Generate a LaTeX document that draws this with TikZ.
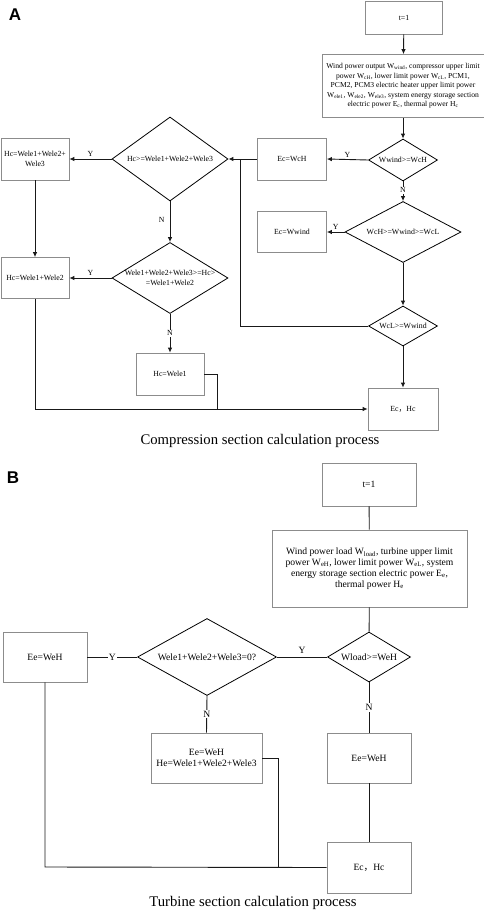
\documentclass[tikz,border=0pt]{standalone}
\usepackage{fontspec}
\setmainfont{Liberation Serif}
\newfontfamily\hel{Liberation Sans}
\newfontfamily\cjk{Noto Sans CJK SC}
\usetikzlibrary{shapes.geometric,arrows.meta}
\tikzset{
  fa/.style={font=\fontsize{7.8}{9.6}\selectfont},
  fb/.style={font=\fontsize{9.6}{10.8}\selectfont},
  bx/.style={draw=black!45, line width=0.7pt, rectangle, inner sep=0pt, align=center, fa},
  bxb/.style={bx, fb},
  dia/.style={draw=black, line width=0.8pt, diamond, inner sep=0pt},
  dlab/.style={fa, align=center, inner sep=0pt},
  dlabb/.style={fb, align=center, inner sep=0pt},
  cn/.style={line width=0.9pt, draw=black!90},
  ar/.style={cn, -{Latex[length=5pt,width=4.5pt]}},
  lab/.style={fa, inner sep=1pt},
  labb/.style={fb, inner sep=1pt},
  onl/.style={lab, fill=white},
  onlb/.style={labb, fill=white},
  captxt/.style={font=\fontsize{14.7}{17}\selectfont},
  panel/.style={font=\hel\bfseries\fontsize{17}{20}\selectfont}
}
\begin{document}
\begin{tikzpicture}[x=1pt,y=-1pt]
\useasboundingbox (0,0) rectangle (484,912);
% ---------- Panel A ----------
\node[panel] (lA) at (15,15) {A};
\node[bx, minimum width=77, minimum height=33] (t1A) at (404,17.5) {t=1};
\node[bx, minimum width=162, minimum height=63, font=\fontsize{7.6}{9.5}\selectfont] (infoA) at (403,86) {Wind power output W\textsubscript{wind}, compressor upper limit\\power W\textsubscript{cH}, lower limit power W\textsubscript{cL}, PCM1,\\PCM2, PCM3 electric heater upper limit power\\W\textsubscript{ele1}, W\textsubscript{ele2}, W\textsubscript{ele3}, system energy storage section\\electric power E\textsubscript{c}, thermal power H\textsubscript{c}};
\node[dia, minimum width=69, minimum height=42, label={[dlab]center:Wwind>=WcH}] (d1A) at (403,160) {};
\node[bx, minimum width=69, minimum height=42] (ecwch) at (292,159) {Ec=WcH};
\node[dia, minimum width=116, minimum height=61, label={[dlab]center:WcH>=Wwind>=WcL}] (d2A) at (403,232) {};
\node[bx, minimum width=69, minimum height=41] (ecwwind) at (292,232) {Ec=Wwind};
\node[dia, minimum width=69, minimum height=40, label={[dlab]center:WcL>=Wwind}] (d3A) at (403,326) {};
\node[bx, minimum width=70, minimum height=42] (echcA) at (403,409) {Ec{\cjk ，}Hc};
\node[dia, minimum width=116, minimum height=84, label={[dlab]center:Hc>=Wele1+Wele2+Wele3}] (hd1) at (170,159) {};
\node[bx, minimum width=68, minimum height=42] (hc1) at (35,159) {Hc=Wele1+Wele2+\\Wele3};
\node[dia, minimum width=116, minimum height=71, label={[dlab]center:Wele1+Wele2+Wele3>=Hc>\\=Wele1+Wele2}] (hd2) at (170,278) {};
\node[bx, minimum width=68, minimum height=41] (hc2) at (35,278) {Hc=Wele1+Wele2};
\node[bx, minimum width=68, minimum height=42] (hc3) at (170,374) {Hc=Wele1};
\coordinate (jA) at (240,159);
\coordinate (jA2) at (240,326);
\coordinate (kA) at (35,409);
\coordinate (mA) at (217,374);
\coordinate (mA2) at (217,409);

\draw[ar] (t1A) -- (infoA);
\draw[ar] (infoA) -- (d1A);
\draw[ar] (d1A.west) -- node[lab, above=1pt] (y1) {Y} (ecwch.east);
\draw[ar] (d1A.south) -- node[onl, pos=0.45] (n1) {N} (d2A.north);
\draw[ar] (d2A.west) -- node[lab, above=1pt] (y2) {Y} (ecwwind.east);
\draw[ar] (d2A.south) -- (d3A.north);
\draw[ar] (d3A.south) -- (echcA.north);
\draw[cn] (d3A.west) -- (jA2) -- (jA);
\draw[cn] (ecwch.west) -- (jA);
\draw[ar] (jA) -- (hd1.east);
\draw[ar] (hd1.west) -- node[lab, above=1pt] (y3) {Y} (hc1.east);
\draw[ar] (hc1.south) -- (hc2.north);
\draw[ar] (hd1.south) -- node[lab, left=4pt, pos=0.45] (n2) {N} (hd2.north);
\draw[ar] (hd2.west) -- node[lab, above=1pt] (y4) {Y} (hc2.east);
\draw[ar] (hd2.south) -- node[onl, pos=0.5] (n3) {N} (hc3.north);
\draw[ar] (hc2.south) -- (kA) -- (echcA.west);
\draw[cn] (hc3.east) -- (mA) -- (mA2);
\node[captxt] (capA) at (260,441) {Compression section calculation process};

% ---------- Panel B ----------
\node[panel] (lB) at (13,478) {B};
\node[bxb, minimum width=94, minimum height=43] (t1B) at (369,484.5) {t=1};
\node[bxb, minimum width=195, minimum height=77] (infoB) at (369.5,568.5) {Wind power load W\textsubscript{load}, turbine upper limit\\power W\textsubscript{eH}, lower limit power W\textsubscript{eL}, system\\energy storage section electric power E\textsubscript{e},\\thermal power H\textsubscript{e}};
\node[dia, minimum width=83, minimum height=50, label={[dlabb]center:Wload>=WeH}] (wl) at (369,657) {};
\node[dia, minimum width=139, minimum height=77, label={[dlabb]center:Wele1+Wele2+Wele3=0?}] (we) at (207,657) {};
\node[bxb, minimum width=84, minimum height=50] (eeL) at (45,657) {Ee=WeH};
\node[bxb, minimum width=111, minimum height=50] (eeM) at (206.5,758) {Ee=WeH\\He=Wele1+Wele2+Wele3};
\node[bxb, minimum width=84, minimum height=50] (eeR) at (369,758) {Ee=WeH};
\node[bxb, minimum width=84, minimum height=51] (echcB) at (369,867.5) {Ec{\cjk ，}Hc};
\coordinate (kB) at (45,867);
\coordinate (mB) at (278,758);
\coordinate (mB2) at (278,867);

\draw[cn] (t1B) -- (infoB);
\draw[cn] (infoB) -- (wl);
\draw[cn] (wl.west) -- node[labb, above=2pt] (y5) {Y} (we.east);
\draw[cn] (we.west) -- node[onlb] (y6) {Y} (eeL.east);
\draw[cn] (we.south) -- node[onlb] (n4) {N} (eeM.north);
\draw[cn] (wl.south) -- node[onlb, pos=0.5] (n5) {N} (eeR.north);
\draw[cn] (eeR) -- (echcB);
\draw[cn] (eeL.south) -- (kB) -- (echcB.west);
\draw[cn] (eeM.east) -- (mB) -- (mB2);
\node[captxt] (capB) at (253,903) {Turbine section calculation process};
\end{tikzpicture}
\end{document}
